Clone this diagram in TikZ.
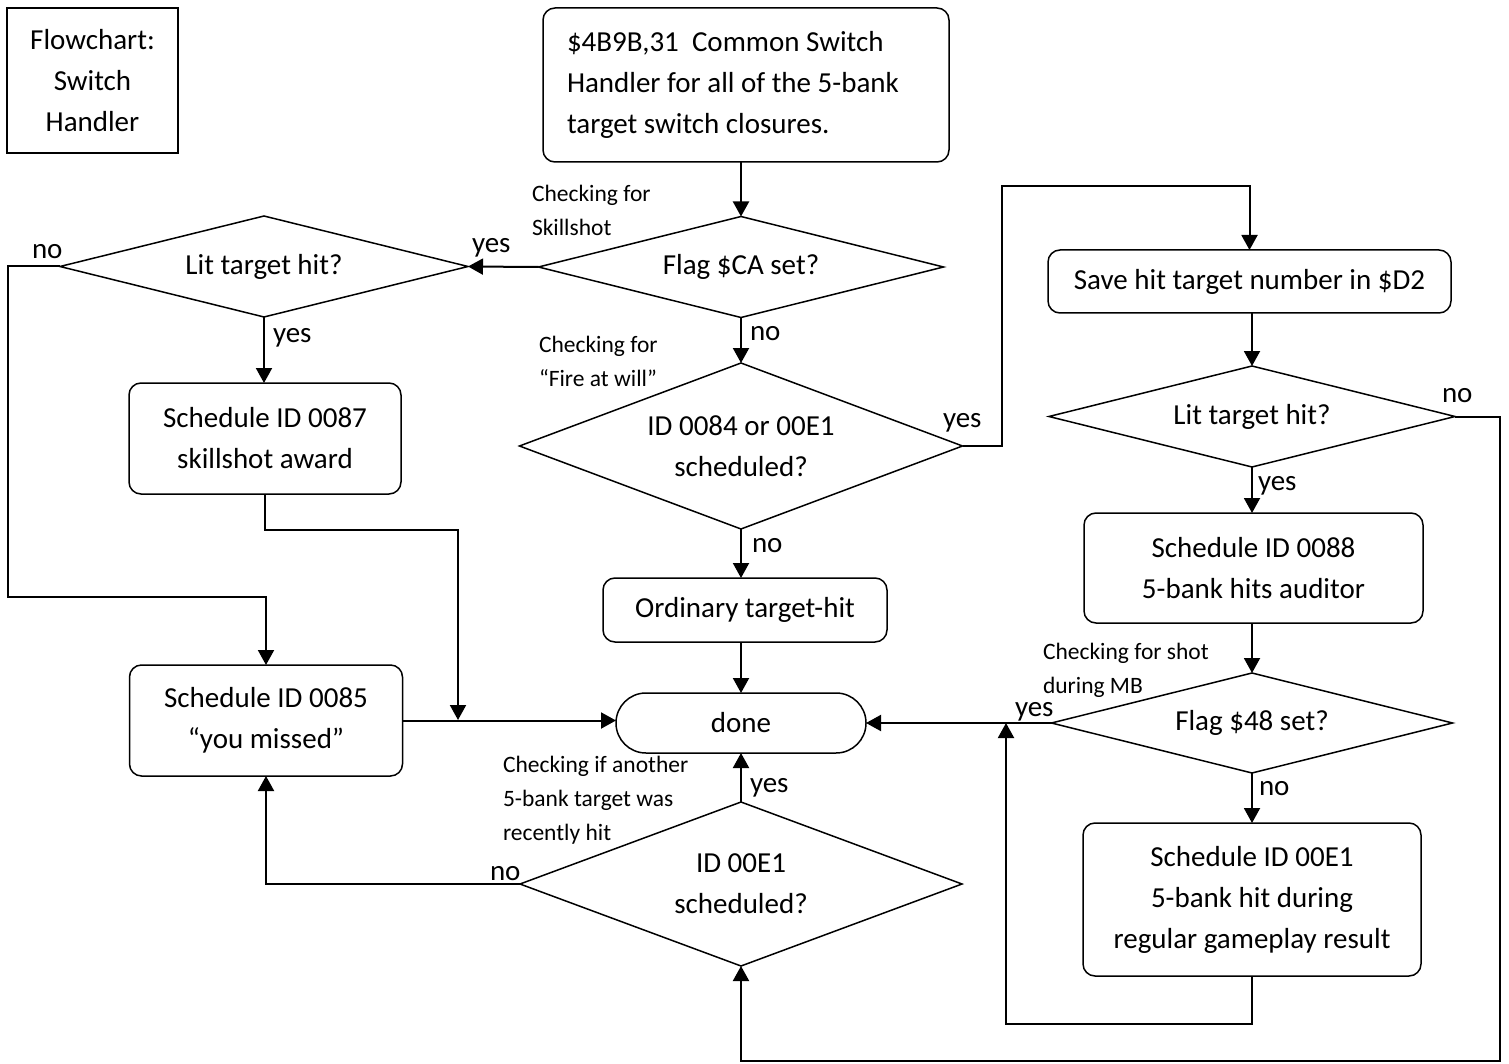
\documentclass[tikz,border=0pt]{standalone}
\usepackage{fontspec}
\setmainfont{Carlito}
\usetikzlibrary{arrows.meta,shapes.geometric}

\begin{document}
\begin{tikzpicture}[x=1pt,y=-1pt,
  every node/.style={inner sep=0pt, outer sep=0pt},
  main/.style={font=\fontsize{29}{41}\selectfont, align=center},
  small/.style={font=\fontsize{23.5}{34}\selectfont, align=left},
  box/.style={main, draw, line width=1.5pt, rounded corners=12pt},
  plainbox/.style={main, draw, line width=1.5pt},
  terminal/.style={main, draw, line width=1.5pt, rounded corners=29.9pt},
  decision/.style={main, draw, diamond, line width=1.5pt, aspect=3},
  flow/.style={line width=2pt, -{Triangle[length=15pt,width=16pt]}},
  tag/.style={main, anchor=base west},
  note/.style={small, anchor=north west},
]
\useasboundingbox (0,0) rectangle (1509,1064);

% title
\node[plainbox, minimum width=171pt, minimum height=145pt] (title) at (92.5,80.5) {Flowchart:\\Switch\\Handler};

% entry
\node[box, align=flush left, text width=358pt, inner xsep=24pt, minimum width=406pt, minimum height=154pt] (start) at (746,85)
  {\$4B9B,31\ \ Common Switch\\Handler for all of the 5-bank\\target switch closures.};

% decisions
\node[decision, minimum width=405pt, minimum height=101pt] (d1) at (741,267) {Flag \$CA set?};
\node[decision, minimum width=408pt, minimum height=101pt] (ld) at (264,266.5) {Lit target hit?};
\node[decision, minimum width=443pt, minimum height=166pt] (d2) at (741,446) {ID 0084 or 00E1\\scheduled?};
\node[decision, minimum width=406pt, minimum height=101pt] (d3) at (1252,416.5) {Lit target hit?};
\node[decision, minimum width=401pt, minimum height=100pt] (d5) at (1252,723) {Flag \$48 set?};
\node[decision, minimum width=442pt, minimum height=164pt] (d4) at (741,884) {ID 00E1\\scheduled?};

% actions
\node[box, minimum width=272pt, minimum height=111pt] (s87) at (265,438.5) {Schedule ID 0087\\skillshot award};
\node[box, minimum width=273pt, minimum height=111pt] (s85) at (266,720.5) {Schedule ID 0085\\“you missed”};
\node[box, minimum width=284pt, minimum height=64pt] (ord) at (745,610) {Ordinary target-hit};
\node[box, minimum width=403pt, minimum height=63pt] (save) at (1249.5,281.5) {Save hit target number in \$D2};
\node[box, minimum width=339pt, minimum height=110pt] (s88) at (1253.5,568) {Schedule ID 0088\\5-bank hits auditor};
\node[box, minimum width=338pt, minimum height=153pt] (se1) at (1252,899.5) {Schedule ID 00E1\\5-bank hit during\\regular gameplay result};
\node[terminal, minimum width=250pt, minimum height=60pt] (done) at (741,723) {done};

% bend points
\coordinate (c1) at (8,597);
\coordinate (c2) at (458,530);
\coordinate (j1) at (458,720);
\coordinate (c4) at (1002,186);
\coordinate (c3) at (1500,1061);
\coordinate (c5) at (1006,1024);
\coordinate (j2) at (1006,723);

% connectors
\draw[flow] (start.south -| d1.north) -- (d1.north);
\draw[flow] (d1.west) -- (ld.east);
\draw[flow] (ld.south) -- (ld.south |- s87.north);
\draw[flow] (ld.west) -| (c1) -| (s85.north);
\draw[flow] (s87.south) |- (c2) -- (j1);
\draw[flow] (s85.east) -- (s85.east -| done.west);
\draw[flow] (d1.south) -- (d2.north);
\draw[flow] (d2.east) -| (c4) -| (save.north);
\draw[flow] (d2.south) -- (d2.south |- ord.north);
\draw[flow] (ord.south -| done.north) -- (done.north);
\draw[flow] (save.south -| d3.north) -- (d3.north);
\draw[flow] (d3.east) -| (c3) -| (d4.south);
\draw[flow] (d3.south) -- (d3.south |- s88.north);
\draw[flow] (s88.south -| d5.north) -- (d5.north);
\draw[flow] (d5.west) -- (done.east);
\draw[flow] (d5.south) -- (d5.south |- se1.north);
\draw[flow] (se1.south) |- (c5) -- (j2);
\draw[flow] (d4.north) -- (done.south);
\draw[flow] (d4.west) -| (s85.south);

% branch labels
\node[tag] (y1) at (472,253) {yes};
\node[tag] (n1) at (32,259) {no};
\node[tag] (y2) at (273,342) {yes};
\node[tag] (n2) at (750,341) {no};
\node[tag] (y3) at (943,427) {yes};
\node[tag] (n3) at (752,552) {no};
\node[tag] (n4) at (1442,402) {no};
\node[tag] (y4) at (1258,490) {yes};
\node[tag] (y5) at (1015,716) {yes};
\node[tag] (n5) at (1259,795) {no};
\node[tag] (y6) at (750,792) {yes};
\node[tag] (n6) at (490,880) {no};

% side notes
\node[note] (k1) at (532,185.5) {Checking for\\Skillshot};
\node[note] (k2) at (539,336.5) {Checking for\\“Fire at will”};
\node[note] (k3) at (503,756.5) {Checking if another\\5-bank target was\\recently hit};
\node[note] (k4) at (1043,643.5) {Checking for shot\\during MB};
\end{tikzpicture}
\end{document}
